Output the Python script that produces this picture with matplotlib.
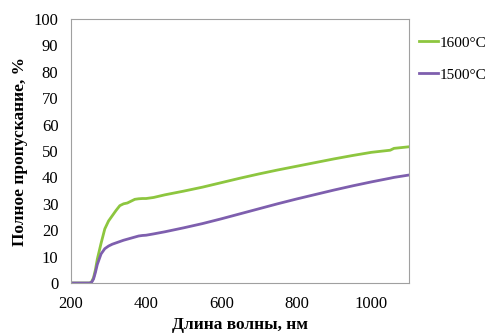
import matplotlib.pyplot as plt

plt.rcParams['font.family'] = ['Liberation Serif', 'DejaVu Serif']

# wavelength, nm
wl = [200, 250, 255, 260, 265, 270, 280, 290, 300, 310, 320, 330, 340, 350,
      360, 370, 380, 390, 400, 420, 450, 500, 550, 600, 650, 700, 750, 800,
      850, 900, 950, 1000, 1050, 1060, 1100]
t1600 = [0, 0, 0.5, 2, 5, 9, 15, 20.5, 23.5, 25.5, 27.5, 29.3, 30, 30.3,
         31, 31.7, 31.9, 32, 32, 32.4, 33.4, 34.8, 36.3, 38, 39.7, 41.3, 42.8,
         44.2, 45.6, 47, 48.3, 49.5, 50.3, 51, 51.6]
t1500 = [0, 0, 0.3, 1.5, 4, 7, 11, 13, 14, 14.7, 15.2, 15.7, 16.2, 16.6,
         17, 17.4, 17.8, 18, 18.1, 18.6, 19.4, 20.9, 22.5, 24.3, 26.2, 28.1,
         30, 31.8, 33.5, 35.2, 36.8, 38.3, 39.7, 40, 40.9]

fig = plt.figure(figsize=(4.88, 3.34), dpi=100)
ax = fig.add_axes([71/488, 1 - 283/334, 338/488, 264/334])

p1, = ax.plot(wl, t1600, color='#8DC63F', lw=2)
p2, = ax.plot(wl, t1500, color='#7E5FAE', lw=2)

ax.set_xlim(200, 1100)
ax.set_ylim(0, 100)
ax.set_xticks([200, 400, 600, 800, 1000])
ax.set_yticks(range(0, 101, 10))
ax.tick_params(length=0, labelsize=12, pad=9)
for s in ax.spines.values():
    s.set_color('#A0A0A0')

ax.set_xlabel("Длина волны, нм", fontsize=12.5, fontweight='bold', labelpad=4)
ax.set_ylabel("Полное пропускание, %", fontsize=12.5, fontweight='bold', labelpad=4)

fig.legend([p1, p2], ["1600°C", "1500°C"], loc='upper left',
           bbox_to_anchor=(419/488, 1 - 36/334), frameon=False, fontsize=11,
           borderpad=0, borderaxespad=0,
           handlelength=1.25, handletextpad=0.1, labelspacing=1.2)

plt.savefig("out.png", dpi=100)
